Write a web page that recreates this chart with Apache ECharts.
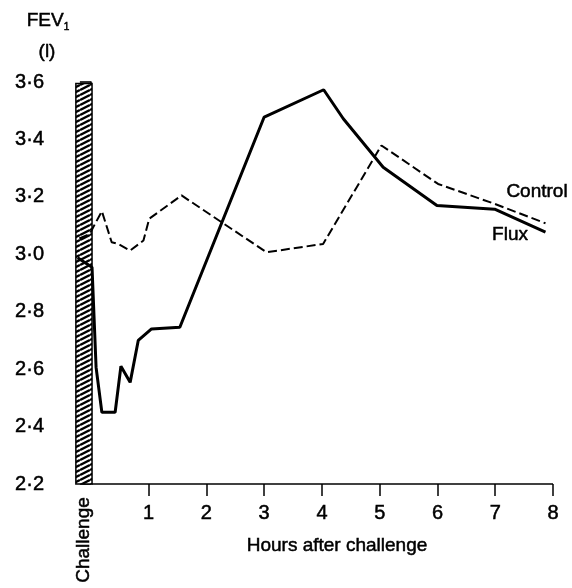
<!DOCTYPE html>
<html>
<head>
    <meta charset="utf-8">
    <title>FEV1 after challenge</title>
    <script src="https://cdn.jsdelivr.net/npm/echarts@6/dist/echarts.min.js"></script>
    <style>
        html, body { margin: 0; padding: 0; background: #fff; }
    </style>
</head>
<body>
    <div id="main" style="width: 572px;height:588px;"></div>
    <script type="text/javascript">
        // values (hours, litres)
        var fluxHours = [-0.23, 0.02, 0.09, 0.19, 0.42, 0.52, 0.68, 0.82, 1.05, 1.54, 3.0, 4.03, 4.37, 5.06, 5.99, 6.99, 7.87]
        var fluxFev = [2.988, 2.955, 2.606, 2.45, 2.45, 2.61, 2.554, 2.70, 2.74, 2.746, 3.478, 3.573, 3.472, 3.303, 3.17, 3.157, 3.077]

        var controlHours = [-0.2, -0.02, 0.04, 0.19, 0.36, 0.47, 0.68, 0.91, 1.01, 1.57, 3.04, 4.02, 5.03, 6.01, 6.97, 7.87]
        var controlFev = [3.055, 3.07, 3.094, 3.15, 3.042, 3.036, 3.013, 3.048, 3.124, 3.205, 3.007, 3.036, 3.379, 3.245, 3.177, 3.108]

        var hourTicks = [1, 2, 3, 4, 5, 6, 7, 8]
        var challengeSpan = [-0.26, 0.02]   // hatched bar, hours
        var challengeTop = 3.595

        var font = "'Liberation Sans', Arial, sans-serif"

        function pairs(xs, ys) {
            return xs.map(function (x, i) { return [x, ys[i]] })
        }

        // diagonal hatch for the challenge bar
        var hatch = document.createElement("canvas")
        hatch.width = 10
        hatch.height = 5
        var ctx = hatch.getContext("2d")
        ctx.fillStyle = "#fff"
        ctx.fillRect(0, 0, 10, 5)
        ctx.strokeStyle = "#000"
        ctx.lineWidth = 2.4
        ;[-5, 0, 5].forEach(function (d) {
            ctx.beginPath()
            ctx.moveTo(0, 5 + d)
            ctx.lineTo(10, d)
            ctx.stroke()
        })

        // a thin outline thickens the print-like lettering
        var txt = { color: "#000", fontSize: 20, fontFamily: font, textBorderColor: "#000", textBorderWidth: 0.5 }

        function note(text, x, y, size, rot) {
            return {
                type: "text", x: x, y: y, rotation: rot || 0,
                style: {
                    text: text, font: size + "px " + font, fill: "#000",
                    stroke: "#000", lineWidth: 0.5,
                    align: "center", verticalAlign: "middle"
                }
            }
        }

        var myChart = echarts.init(document.getElementById("main"))

        var option = {
            animation: false,
            backgroundColor: "#fff",
            grid: { left: 62, right: 19, top: 82, bottom: 104 },
            xAxis: {
                type: "value",
                min: -0.5,
                max: 8,
                axisLine: { show: false },
                splitLine: { show: false },
                axisTick: {
                    customValues: hourTicks,
                    length: 12,
                    lineStyle: { color: "#000", width: 1.5 }
                },
                axisLabel: Object.assign({ customValues: hourTicks, margin: 19 }, txt)
            },
            yAxis: {
                type: "value",
                min: 2.2,
                max: 3.6,
                interval: 0.2,
                splitLine: { show: false },
                axisLine: { show: true, lineStyle: { color: "#000", width: 1.6 } },
                axisTick: { show: true, length: 11, lineStyle: { color: "#000", width: 1.6 } },
                axisLabel: Object.assign({
                    margin: 18,
                    formatter: function (v) { return v.toFixed(1).replace(".", "\u00b7") }
                }, txt)
            },
            series: [
                {
                    name: "Control",
                    type: "line",
                    data: pairs(controlHours, controlFev),
                    symbol: "none",
                    z: 3,
                    lineStyle: { color: "#000", width: 2, type: [9, 4] },
                    markArea: {
                        silent: true,
                        itemStyle: {
                            color: { image: hatch, repeat: "repeat" },
                            borderColor: "#000",
                            borderWidth: 1.5
                        },
                        data: [[
                            { coord: [challengeSpan[0], challengeTop] },
                            { coord: [challengeSpan[1], 2.2] }
                        ]]
                    },
                    markLine: {
                        silent: true,
                        symbol: "none",
                        label: { show: false },
                        lineStyle: { color: "#000", width: 1.6, type: "solid" },
                        data: [[
                            { coord: [challengeSpan[1], 2.2] },
                            { coord: [8, 2.2] }
                        ]]
                    }
                },
                {
                    name: "Flux",
                    type: "line",
                    data: pairs(fluxHours, fluxFev),
                    symbol: "none",
                    z: 4,
                    lineStyle: { color: "#000", width: 3 }
                }
            ],
            graphic: [
                {
                    type: "text", x: 48, y: 21,
                    style: {
                        text: "FEV{s|1}", font: "19px " + font, fill: "#000",
                        stroke: "#000", lineWidth: 0.5,
                        align: "center", verticalAlign: "middle",
                        rich: { s: { fontSize: 10, fontFamily: font, padding: [12, 0, 0, 0], fill: "#000" } }
                    }
                },
                note("(l)", 47, 52, 19),
                note("Hours after challenge", 337, 546, 19),
                note("Challenge", 84, 540, 19, Math.PI / 2),
                note("Control", 537, 192, 19),
                note("Flux", 510, 235, 19)
            ]
        }

        myChart.setOption(option)
    </script>
</body>
</html>
